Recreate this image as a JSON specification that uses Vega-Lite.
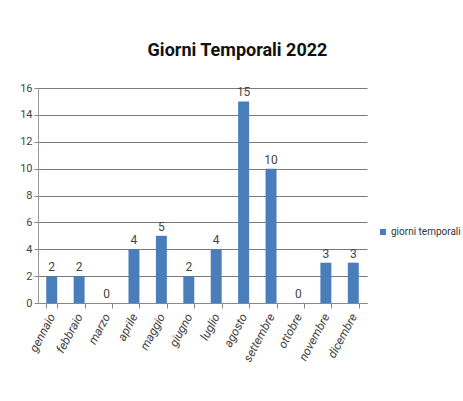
{
  "$schema": "https://vega.github.io/schema/vega-lite/v6.json",
  "width": 329,
  "height": 215,
  "autosize": {"type": "none"},
  "padding": {"left": 38, "top": 88, "right": 96, "bottom": 98},
  "background": "white",
  "title": {
    "text": "Giorni Temporali 2022",
    "font": "Roboto",
    "fontSize": 18,
    "fontWeight": "bold",
    "color": "#111111",
    "anchor": "middle",
    "dx": 35,
    "offset": 22
  },
  "config": {
    "view": {"stroke": null},
    "font": "Roboto"
  },
  "data": {
    "values": [
      {"mese": "gennaio", "giorni": 2},
      {"mese": "febbraio", "giorni": 2},
      {"mese": "marzo", "giorni": 0},
      {"mese": "aprile", "giorni": 4},
      {"mese": "maggio", "giorni": 5},
      {"mese": "giugno", "giorni": 2},
      {"mese": "luglio", "giorni": 4},
      {"mese": "agosto", "giorni": 15},
      {"mese": "settembre", "giorni": 10},
      {"mese": "ottobre", "giorni": 0},
      {"mese": "novembre", "giorni": 3},
      {"mese": "dicembre", "giorni": 3}
    ]
  },
  "encoding": {
    "x": {
      "field": "mese",
      "type": "nominal",
      "sort": null,
      "scale": {"paddingInner": 0.6, "paddingOuter": 0.3},
      "axis": {
        "title": null,
        "labelAngle": -62,
        "labelAlign": "right",
        "labelBaseline": "middle",
        "labelFontStyle": "italic",
        "labelFontSize": 12,
        "labelColor": "#444444",
        "labelPadding": 6,
        "domainColor": "#888888",
        "tickColor": "#888888",
        "tickBand": "extent",
        "tickSize": 5
      }
    },
    "y": {
      "field": "giorni",
      "type": "quantitative",
      "scale": {"domain": [0, 16]},
      "axis": {
        "title": null,
        "values": [0, 2, 4, 6, 8, 10, 12, 14, 16],
        "labelFontSize": 11,
        "labelColor": "#444444",
        "domainColor": "#999999",
        "tickColor": "#888888",
        "tickSize": 4,
        "gridColor": "#7a7a7a",
        "gridWidth": 1.2
      }
    }
  },
  "layer": [
    {
      "mark": {"type": "bar", "color": "#4a7ebb"},
      "encoding": {
        "color": {
          "datum": "giorni temporali",
          "scale": {"range": ["#4a7ebb"]},
          "legend": {
            "title": null,
            "orient": "none",
            "legendX": 340,
            "legendY": 139,
            "symbolType": "square",
            "symbolSize": 36,
            "symbolOffset": 0,
            "labelOffset": 3,
            "labelFontSize": 10,
            "labelColor": "#333333"
          }
        }
      }
    },
    {
      "mark": {"type": "text", "dy": -9, "fontSize": 12, "color": "#444444"},
      "encoding": {"text": {"field": "giorni", "type": "quantitative"}}
    }
  ]
}
